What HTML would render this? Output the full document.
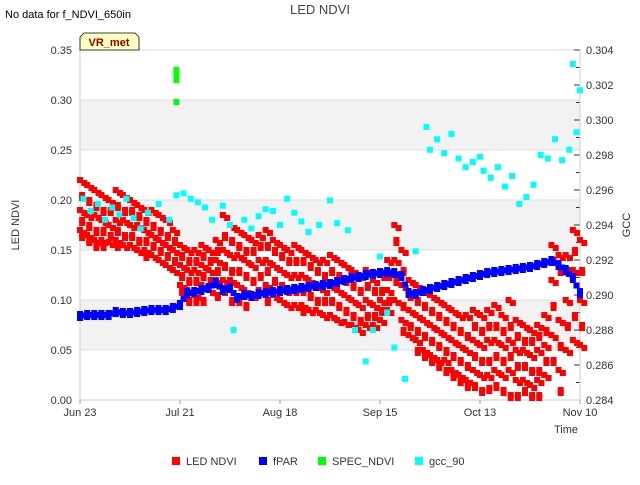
<!DOCTYPE html>
<html><head><meta charset="utf-8"><style>
body{margin:0;background:#fff;font-family:"Liberation Sans",sans-serif}
svg text{font-family:"Liberation Sans",sans-serif}
</style></head><body>
<svg id="c" width="640" height="480" viewBox="0 0 640 480">
<rect x="0" y="0" width="640" height="480" fill="#fff"/>
<g id="bands"></g><g id="axes"></g><g id="marks"></g>
<text x="5" y="18" font-size="11" fill="#000">No data for f_NDVI_650in</text>
<text x="320" y="14" font-size="13" fill="#444" text-anchor="middle">LED NDVI</text>
<path d="M80,50 L80,37 L84,33 L135,33 L139,37 L139,50 Z" fill="#ffffc0" stroke="#000" stroke-width="0.8"/>
<text x="109" y="46" font-size="11" font-weight="bold" fill="#8b0000" text-anchor="middle">VR_met</text>
<text x="19" y="225" font-size="11" fill="#333" text-anchor="middle" transform="rotate(-90 19 225)">LED NDVI</text>
<text x="630" y="225" font-size="11" fill="#333" text-anchor="middle" transform="rotate(-90 630 225)">GCC</text>
<text x="578" y="433" font-size="11" fill="#333" text-anchor="end">Time</text>
<g id="legend" font-size="11" fill="#333"></g>
</svg>
<script>
const xTickLabels=["Jun 23","Jul 21","Aug 18","Sep 15","Oct 13","Nov 10"];
const xTickDays=[0,28,56,84,112,140];
const yTicksLeft=[0,0.05,0.10,0.15,0.20,0.25,0.30,0.35];
const yTicksRight=[0.284,0.286,0.288,0.290,0.292,0.294,0.296,0.298,0.300,0.302,0.304];
const ledDays=[0,2,4,6,8,10,12,14,16,18,20,22,24,26,28,30,32,34,36,38,40,42,44,46,48,50,52,54,56,58,60,62,64,66,68,70,72,74,76,78,80,82,84,86,88,90,92,94,96,98,100,102,104,106,108,110,112,114,116,118,120,122,124,126,128,130,132,134,136,138,140];
const ledValues=[
[.22,.205,.19,.18,.17,.165],[.215,.20,.185,.175,.165,.16],[.21,.195,.185,.17,.16,.155],[.205,.19,.18,.17,.16,.155],
[.20,.19,.175,.165,.158],[.21,.195,.18,.17,.16,.155],[.205,.19,.18,.165,.155],[.20,.19,.175,.165,.155],
[.195,.185,.175,.16,.15],[.19,.18,.17,.16,.15,.145],[.19,.175,.165,.155,.145],[.185,.17,.16,.15,.14],
[.18,.165,.155,.145,.135],[.17,.16,.15,.14,.13],[.155,.145,.135,.125,.115,.11],[.15,.14,.13,.12,.11,.10],
[.15,.14,.13,.12,.105,.10],[.155,.145,.135,.125,.115,.10],[.15,.14,.13,.12,.11],[.16,.15,.14,.13,.12,.105],
[.185,.165,.15,.135,.12,.11],[.175,.16,.145,.13,.12,.10],[.17,.155,.145,.13,.115,.10],[.165,.15,.14,.125,.11,.095],
[.16,.15,.135,.12,.105],[.165,.155,.14,.125,.11],[.17,.155,.14,.13,.115,.10],[.16,.15,.135,.12,.105],
[.155,.145,.13,.115,.10],[.15,.14,.125,.11,.095],[.155,.14,.125,.11,.095],[.15,.14,.125,.11,.095,.09],
[.145,.135,.12,.105,.09],[.14,.13,.115,.10,.09],[.14,.125,.11,.10,.085],[.145,.13,.115,.10,.085],
[.14,.125,.11,.095,.08],[.135,.12,.105,.09,.078],[.13,.115,.10,.085,.075],[.125,.11,.095,.08,.07],
[.13,.115,.10,.085,.075],[.12,.11,.095,.085,.075],[.125,.11,.10,.09,.08],[.14,.125,.11,.10,.09],
[.175,.16,.14,.12,.10],[.15,.13,.115,.095,.08,.07],[.12,.105,.09,.075,.065],[.115,.10,.085,.07,.06,.05],
[.11,.095,.08,.065,.05,.045],[.105,.09,.075,.06,.045,.04],[.10,.085,.07,.055,.04,.035],[.095,.08,.065,.05,.04,.03],
[.09,.075,.06,.045,.03,.025],[.085,.07,.055,.04,.025,.02],[.085,.065,.05,.035,.02,.015],[.09,.075,.06,.045,.03,.015],
[.085,.07,.055,.04,.025,.01],[.09,.075,.06,.04,.025,.012],[.095,.075,.06,.045,.03,.015],[.085,.07,.055,.04,.025,.01],
[.10,.075,.06,.045,.03,.005],[.08,.065,.05,.035,.02,.005],[.075,.06,.05,.035,.02,.01],[.07,.06,.045,.03,.015,.005],
[.075,.065,.05,.03,.02,.005],[.085,.07,.055,.04,.025],[.155,.14,.12,.095,.065,.04],[.145,.13,.08,.055,.03,.01],
[.145,.13,.10,.075,.05],[.17,.15,.13,.085,.06],[.16,.13,.10,.075,.055]];
const fparValues=[.082,.083,.083,.083,.083,.086,.085,.085,.086,.087,.088,.088,.088,.090,.093,.105,.106,.108,.110,.115,.108,.110,.100,.103,.102,.104,.105,.106,.107,.108,.109,.110,.111,.112,.113,.114,.116,.118,.120,.121,.123,.124,.125,.126,.125,.122,.105,.104,.107,.109,.111,.113,.115,.117,.119,.121,.123,.125,.126,.127,.128,.129,.130,.131,.133,.135,.137,.133,.128,.120,.105];
const specDays=[27,27,27,27];
const specValues=[.33,.325,.32,.298];
const gccDays=[1,3,5,7,9,11,13,15,17,19,22,25,27,29,31,33,35,37,40,42,43,46,48,50,52,54,56,58,60,62,64,67,70,72,75,77,80,82,84,86,88,91,94,97,98,100,102,104,106,108,110,112,113,115,117,119,121,123,125,127,129,131,133,135,137,138,139,140];
const gccValues=[.2955,.2948,.2952,.2943,.2950,.2946,.2955,.2944,.2938,.2947,.2952,.2943,.2957,.2958,.2955,.2953,.2950,.2943,.2951,.2940,.2880,.2943,.2938,.2945,.2949,.2948,.2940,.2955,.2947,.2942,.2936,.2940,.2954,.2941,.2937,.2880,.2862,.2880,.2922,.2890,.2870,.2852,.2925,.2996,.2983,.2989,.2981,.2992,.2978,.2973,.2976,.2979,.2971,.2967,.2973,.2962,.2968,.2952,.2956,.2963,.2980,.2978,.2989,.2977,.2983,.3032,.2993,.3017];

const X=d=>80+d*500/140, Y=v=>400-v*1000, YR=g=>400-(g-0.284)*17500;
const NS="http://www.w3.org/2000/svg";
function mk(tag,attrs,parent){const e=document.createElementNS(NS,tag);for(const k in attrs)e.setAttribute(k,attrs[k]);parent.appendChild(e);return e;}
const bands=document.getElementById('bands'),axes=document.getElementById('axes'),marks=document.getElementById('marks'),legend=document.getElementById('legend');
mk('rect',{x:80,y:50,width:500,height:350,fill:'#fff'},bands);
for(let i=0;i<yTicksLeft.length-1;i++){
  if(i%2===1){const b=mk('rect',{x:80,y:Y(yTicksLeft[i+1]),width:500,height:Y(yTicksLeft[i])-Y(yTicksLeft[i+1]),fill:'#f2f2f2'},bands);
  
  }
}
yTicksLeft.forEach(v=>{
  const l=mk('line',{x1:80,x2:580,y1:Y(v),y2:Y(v),stroke:'#ddd','stroke-width':1},axes);
  
  
  const t=mk('text',{x:72,y:Y(v)+4,'font-size':11,fill:'#333','text-anchor':'end'},axes);
  t.textContent=v.toFixed(2);
  
  
});
yTicksRight.forEach((g,i)=>{
  const t=mk('text',{x:586,y:YR(g)+4,'font-size':11,fill:'#333'},axes);
  t.textContent=g.toFixed(3);
  
  
  mk('line',{x1:574,x2:580,y1:YR(g),y2:YR(g),stroke:'#333'},axes);
  if(i<yTicksRight.length-1) mk('line',{x1:576,x2:580,y1:YR(g+0.001),y2:YR(g+0.001),stroke:'#333'},axes);
});
xTickDays.forEach((d,i)=>{
  mk('line',{x1:X(d),x2:X(d),y1:400,y2:404,stroke:'#999'},axes);
  const t=mk('text',{x:X(d),y:416,'font-size':11,fill:'#333','text-anchor':'middle'},axes);
  t.textContent=xTickLabels[i];
  
  
});
mk('line',{x1:80,x2:80,y1:50,y2:400,stroke:'#ccc'},axes);
mk('line',{x1:580,x2:580,y1:50,y2:400,stroke:'#ccc'},axes);
mk('line',{x1:80,x2:580,y1:400,y2:400,stroke:'#ccc'},axes);
function pt(cx,cy,col,name){const r=mk('rect',{x:cx-3,y:cy-3,width:6,height:6,fill:col},marks);
  
  }
ledDays.forEach((d,i)=>ledValues[i].forEach((v,j)=>{pt(X(d+(j%2)*0.6),Y(v),'#ff0000','led-ndvi-point');pt(X(d+1.2-(j%2)*0.6),Y(v-0.003),'#ff0000','led-ndvi-point');}));
fparValues.forEach((v,i)=>{pt(X(i*2),Y(v),'#0000ff','fpar-point');pt(X(i*2),Y(v+0.004),'#0000ff','fpar-point');if(i<fparValues.length-1)pt(X(i*2+1),Y((v+fparValues[i+1])/2+0.002),'#0000ff','fpar-point');});
specDays.forEach((d,i)=>pt(X(d),Y(specValues[i]),'#00ff00','spec-ndvi-point'));
gccDays.forEach((d,i)=>pt(X(d),YR(gccValues[i]),'#00ffff','gcc-90-point'));
const leg=[['LED NDVI','#ff0000',176],['fPAR','#0000ff',263],['SPEC_NDVI','#00ff00',322],['gcc_90','#00ffff',419]];
leg.forEach(([n,c,x])=>{
  const r=mk('rect',{x:x-4,y:457,width:8,height:8,fill:c},legend);
  
  
  const t=mk('text',{x:x+10,y:465,'font-size':11,fill:'#333'},legend);
  t.textContent=n;
  
  
});
</script>
</body></html>
